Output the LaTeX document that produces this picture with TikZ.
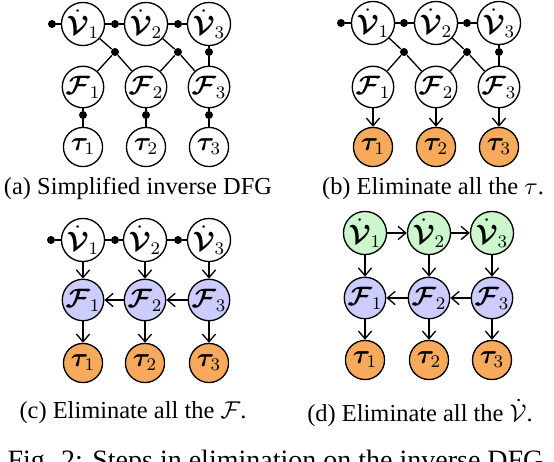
\documentclass[tikz,border=0pt]{standalone}
\usepackage{amsmath,bm}
\usepackage{fontspec}
\setmainfont{Liberation Serif}
\usetikzlibrary{arrows.meta}
\definecolor{torange}{RGB}{247,170,92}
\definecolor{fblue}{RGB}{204,204,255}
\definecolor{vgreen}{RGB}{204,247,204}
\tikzset{
  var/.style={circle,draw,line width=0.6pt,minimum size=17.6pt,inner sep=0pt,font=\large},
  fdot/.style={circle,fill,inner sep=0pt,minimum size=3.6pt},
  ln/.style={line width=0.6pt},
  arr/.style={line width=0.6pt,-{Straight Barb[length=3.5pt,width=6pt]}},
  captext/.style={font=\fontsize{11}{13}\selectfont},
  figtext/.style={font=\fontsize{12.6}{15}\selectfont},
}
\newcommand{\Vd}[1]{$\bm{\dot{\mathcal{V}}}_{#1}$}
\newcommand{\Fv}[1]{$\bm{\mathcal{F}}_{#1}$}
\newcommand{\Tv}[1]{$\bm{\tau}_{#1}$}
\begin{document}
\begin{tikzpicture}[x=0.45pt,y=-0.45pt]
\useasboundingbox (0,0) rectangle (554,462);
% ---------- (a)
\foreach \i/\x in {1/83,2/146,3/209}{
  \node[var] (aV\i) at (\x,24) {\Vd{\i}};
  \node[var] (aF\i) at (\x,87) {\Fv{\i}};
  \node[var] (aT\i) at (\x,147) {\Tv{\i}};
}
\node[fdot] (ad0) at (52,24) {};
\node[fdot] (ad1) at (115,24) {};
\node[fdot] (ad2) at (178,24) {};
\node[fdot] (ae1) at (115,52) {};
\node[fdot] (ae2) at (178,52) {};
\node[fdot] (ae3) at (209,52) {};
\foreach \i/\x in {1/83,2/146,3/209}{
  \node[fdot] (ag\i) at (\x,115) {};
  \draw[ln] (aF\i) -- (ag\i) -- (aT\i);
}
\draw[ln] (ad0) -- (aV1) -- (ad1) -- (aV2) -- (ad2) -- (aV3);
\draw[ln] (aV1) -- (ae1) -- (aF2);
\draw[ln] (aF1) -- (ae1);
\draw[ln] (aV2) -- (ae2) -- (aF3);
\draw[ln] (aF2) -- (ae2);
\draw[ln] (aV3) -- (ae3) -- (aF3);
\node[captext] (capa) at (138,189) {(a) Simplified inverse DFG};
% ---------- (b)
\foreach \i/\x in {1/373,2/436,3/499}{
  \node[var] (bV\i) at (\x,23) {\Vd{\i}};
  \node[var] (bF\i) at (\x,87) {\Fv{\i}};
  \node[var,fill=torange] (bT\i) at (\x,147) {\Tv{\i}};
  \draw[arr] (bF\i) -- (bT\i);
}
\node[fdot] (bd0) at (341,23) {};
\node[fdot] (bd1) at (404,23) {};
\node[fdot] (bd2) at (467,23) {};
\node[fdot] (be1) at (404,52) {};
\node[fdot] (be2) at (467,52) {};
\node[fdot] (be3) at (499,52) {};
\draw[ln] (bd0) -- (bV1) -- (bd1) -- (bV2) -- (bd2) -- (bV3);
\draw[ln] (bV1) -- (be1) -- (bF2);
\draw[ln] (bF1) -- (be1);
\draw[ln] (bV2) -- (be2) -- (bF3);
\draw[ln] (bF2) -- (be2);
\draw[ln] (bV3) -- (be3) -- (bF3);
\node[captext] (capb) at (433,189) {(b) Eliminate all the $\tau$.};
% ---------- (c)
\foreach \i/\x in {1/83,2/145,3/209}{
  \node[var] (cV\i) at (\x,240) {\Vd{\i}};
  \node[var,fill=fblue] (cF\i) at (\x,300) {\Fv{\i}};
  \node[var,fill=torange] (cT\i) at (\x,363) {\Tv{\i}};
  \draw[arr] (cV\i) -- (cF\i);
  \draw[arr] (cF\i) -- (cT\i);
}
\node[fdot] (cd0) at (51,240) {};
\node[fdot] (cd1) at (115,240) {};
\node[fdot] (cd2) at (178,240) {};
\draw[ln] (cd0) -- (cV1) -- (cd1) -- (cV2) -- (cd2) -- (cV3);
\draw[arr] (cF3) -- (cF2);
\draw[arr] (cF2) -- (cF1);
\node[captext] (capc) at (133,413) {(c) Eliminate all the $\mathcal{F}$.};
% ---------- (d)
\foreach \i/\x in {1/365,2/429,3/492}{
  \node[var,fill=vgreen] (dV\i) at (\x,233) {\Vd{\i}};
  \node[var,fill=fblue] (dF\i) at (\x,298) {\Fv{\i}};
  \node[var,fill=torange] (dT\i) at (\x,360) {\Tv{\i}};
  \draw[arr] (dV\i) -- (dF\i);
  \draw[arr] (dF\i) -- (dT\i);
}
\draw[arr] (dV1) -- (dV2);
\draw[arr] (dV2) -- (dV3);
\draw[arr] (dF3) -- (dF2);
\draw[arr] (dF2) -- (dF1);
\node[captext] (capd) at (420,413) {(d) Eliminate all the $\dot{\mathcal{V}}$.};
% ---------- figure caption
\node[figtext,anchor=base] (fig) at (279,470) {Fig. 2: Steps in elimination on the inverse DFG.};
\end{tikzpicture}
\end{document}
